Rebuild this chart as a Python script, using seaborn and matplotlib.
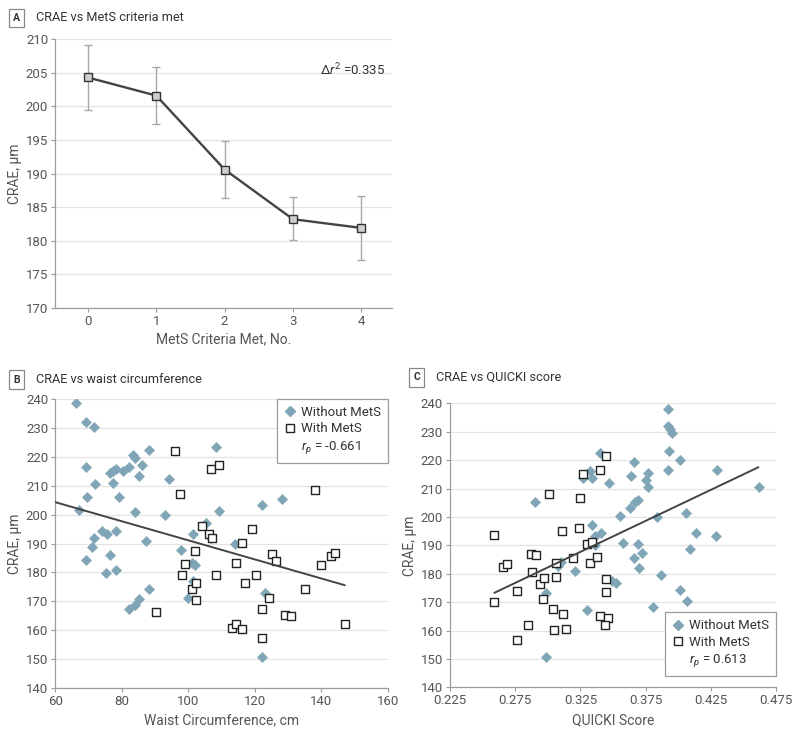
import matplotlib
matplotlib.use("Agg")
import matplotlib.pyplot as plt
from matplotlib.lines import Line2D
import seaborn as sns

# -- Panel A: CRAE by number of MetS criteria
mets_count = [0, 1, 2, 3, 4]
crae_mean = [204.3, 201.6, 190.6, 183.2, 181.9]
crae_low = [199.4, 197.4, 186.4, 180.1, 177.1]
crae_high = [209.2, 205.9, 194.8, 186.5, 186.7]
delta_r2 = "0.335"

# -- Panel B: CRAE vs waist circumference
wo_waist = [66.3, 69.3, 71.8, 69.3, 72.1, 69.5, 67.2, 71.8, 71.2, 69.3, 74.0, 75.5,
            76.5, 78.3, 78.2, 75.3, 76.5, 77.5, 78.3, 77.3, 79.2, 80.3, 82.2, 83.3,
            84.1, 86.0, 85.1, 84.1, 87.2, 88.2, 93.0, 94.2, 97.8, 101.5, 101.2, 102.0,
            105.2, 106.8, 108.2, 109.2, 114.1, 122.2, 128.2, 82.3, 84.0, 85.3, 88.2,
            100.0, 101.5, 123.0, 122.2]
wo_crae_b = [238.6, 232.0, 230.3, 216.4, 210.7, 206.0, 201.5, 192.0, 188.7, 184.3, 194.4, 193.4,
             186.0, 194.2, 180.8, 179.8, 214.4, 215.0, 215.7, 210.9, 206.0, 215.0, 216.4, 220.5,
             219.6, 217.0, 213.2, 200.9, 190.8, 222.4, 199.7, 212.3, 187.8, 193.2, 183.4, 182.6,
             197.0, 191.8, 223.3, 201.1, 189.8, 203.4, 205.4, 167.5, 168.6, 170.7, 174.4,
             171.3, 177.1, 173.0, 150.8]
w_waist = [96.0, 97.5, 106.8, 109.2, 104.0, 106.2, 107.0, 116.2, 119.2, 102.0, 99.0, 114.2,
           125.2, 126.2, 138.0, 140.0, 142.8, 144.0, 98.0, 101.0, 102.2, 102.2, 90.2, 108.2,
           117.0, 120.2, 122.0, 124.3, 122.2, 113.2, 114.2, 116.2, 129.0, 131.0, 135.0, 147.0]
w_crae_b = [222.1, 207.1, 215.7, 217.0, 196.2, 193.3, 191.8, 190.3, 195.0, 187.5, 182.8, 183.4,
            186.3, 184.0, 208.6, 182.6, 185.8, 186.6, 179.1, 174.2, 176.2, 170.4, 166.4, 179.1,
            176.5, 179.2, 167.5, 171.3, 157.2, 160.9, 162.1, 160.5, 165.3, 164.9, 174.4, 162.3]
fit_waist = [60, 147]
fit_crae_b = [204.3, 175.6]
rp_b = "-0.661"

# -- Panel C: CRAE vs QUICKI score
wo_quicki = [0.290, 0.299, 0.299, 0.308, 0.321, 0.330, 0.340, 0.332, 0.334, 0.327, 0.347, 0.366,
             0.364, 0.377, 0.375, 0.377, 0.369, 0.367, 0.363, 0.355, 0.334, 0.336, 0.341, 0.358,
             0.369, 0.372, 0.366, 0.370, 0.352, 0.381, 0.387, 0.392, 0.392, 0.394, 0.3955, 0.393,
             0.401, 0.392, 0.430, 0.462, 0.384, 0.406, 0.414, 0.429, 0.409, 0.401, 0.407,
             0.336, 0.349, 0.310]
wo_crae_c = [205.1, 173.1, 150.8, 182.8, 181.0, 167.2, 222.4, 216.2, 213.8, 213.6, 212.0, 219.2,
             214.4, 215.4, 213.0, 210.6, 206.0, 205.4, 203.0, 200.4, 197.1, 193.3, 194.2, 190.9,
             190.5, 187.4, 185.6, 182.1, 176.6, 168.2, 179.5, 238.0, 232.0, 230.8, 229.6, 223.2,
             220.0, 216.5, 216.5, 210.6, 200.0, 201.3, 194.2, 193.3, 188.6, 174.3, 170.5,
             190.0, 177.4, 184.0]
w_quicki = [0.259, 0.266, 0.269, 0.287, 0.291, 0.301, 0.311, 0.319, 0.325, 0.324, 0.327, 0.330,
            0.334, 0.332, 0.338, 0.340, 0.345, 0.259, 0.276, 0.276, 0.285, 0.288, 0.294, 0.296,
            0.297, 0.304, 0.305, 0.306, 0.306, 0.312, 0.314, 0.340, 0.345, 0.345, 0.346, 0.344]
w_crae_c = [193.8, 182.3, 183.5, 187.1, 186.5, 208.2, 194.9, 185.7, 206.5, 196.0, 215.2, 190.5,
            191.3, 183.9, 186.0, 216.5, 221.5, 170.0, 174.0, 156.8, 162.1, 180.8, 176.5, 171.1,
            178.4, 167.5, 160.1, 178.9, 183.8, 166.0, 160.5, 165.0, 178.2, 173.6, 164.6, 162.1]
fit_quicki = [0.259, 0.4615]
fit_crae_c = [173.3, 217.5]
rp_c = "0.613"

quicki_ticks = [0.225, 0.275, 0.325, 0.375, 0.425, 0.475]

# -- Style
sns.set_theme(style="ticks")
plt.rcParams["font.family"] = ["Roboto", "DejaVu Sans"]
plt.rcParams["mathtext.fontset"] = "custom"
plt.rcParams["mathtext.rm"] = "Roboto"
plt.rcParams["mathtext.it"] = "Roboto:italic"

BLUE = "#7fa5b7"
DARK = "#444444"
AXC = "#9c9c9c"
TXT = "#555555"


def style_axis(ax):
    ax.grid(axis="y", color="#e4e4e4", lw=0.9)
    ax.grid(axis="x", visible=False)
    ax.set_axisbelow(True)
    for s in ["top", "right"]:
        ax.spines[s].set_visible(False)
    for s in ["left", "bottom"]:
        ax.spines[s].set_color(AXC)
        ax.spines[s].set_linewidth(0.9)
    ax.tick_params(colors=AXC, labelcolor=TXT, labelsize=9.5, length=3, width=0.8, pad=2)


def panel_title(x, y, letter, text):
    fig.text(x, y, letter, fontsize=7.5, fontweight="bold", color="#333333", va="center",
             ha="center", bbox=dict(boxstyle="square,pad=0.4", fc="white", ec="#888888", lw=0.9))
    fig.text(x + 0.0235, y, text, fontsize=9.2, color="#333333", va="center", ha="left")


def legend_for(ax, rp_text, **kw):
    handles = [
        Line2D([], [], marker="D", ls="none", color=BLUE, markersize=5.5),
        Line2D([], [], marker="s", ls="none", mfc="white", mec="#222222", mew=1.0, markersize=6),
        Line2D([], [], ls="none"),
    ]
    labels = ["Without MetS", "With MetS", r"$r_p$ = " + rp_text]
    leg = ax.legend(handles, labels, fontsize=9.5, frameon=True, fancybox=False, framealpha=1,
                    edgecolor=AXC, handlelength=0.9, handletextpad=0.35, labelspacing=0.25,
                    borderpad=0.55, **kw)
    leg.get_frame().set_linewidth(0.9)
    for t in leg.get_texts():
        t.set_color("#333333")
    return leg


fig = plt.figure(figsize=(8, 7.4), dpi=100)
axA = fig.add_axes([0.069, 0.584, 0.421, 0.363])
axB = fig.add_axes([0.069, 0.070, 0.416, 0.391])
axC = fig.add_axes([0.5625, 0.071, 0.4075, 0.384])

# -- A
yerr = [[m - lo for m, lo in zip(crae_mean, crae_low)],
        [hi - m for m, hi in zip(crae_mean, crae_high)]]
axA.errorbar(mets_count, crae_mean, yerr=yerr, fmt="none", ecolor="#a8a8a8",
             elinewidth=1.0, capsize=3, capthick=1.0, zorder=2)
sns.lineplot(x=mets_count, y=crae_mean, ax=axA, color=DARK, lw=1.7, marker="s",
             markersize=5.5, markerfacecolor="#cfcfcf", markeredgecolor="#333333",
             markeredgewidth=1.0, zorder=3)
axA.set_xlim(-0.48, 4.45)
axA.set_ylim(170, 210)
axA.set_xticks(mets_count)
axA.set_yticks(range(170, 211, 5))
style_axis(axA)
axA.set_xlabel("MetS Criteria Met, No.", fontsize=10, color=TXT, labelpad=3)
axA.set_ylabel("CRAE, µm", fontsize=10, color=TXT, labelpad=3)
axA.text(0.98, 0.885, r"$\Delta r^2$ =" + delta_r2, transform=axA.transAxes,
         ha="right", va="center", fontsize=9.5, color="#333333")
panel_title(0.021, 0.976, "A", "CRAE vs MetS criteria met")

# -- B
sns.scatterplot(x=wo_waist, y=wo_crae_b, ax=axB, marker="D", s=28, color=BLUE,
                edgecolor=BLUE, linewidth=0.3, zorder=3)
sns.scatterplot(x=w_waist, y=w_crae_b, ax=axB, marker="s", s=30, color="#222222",
                facecolor="white", edgecolor="#222222", linewidth=1.0, zorder=4)
sns.lineplot(x=fit_waist, y=fit_crae_b, ax=axB, color=DARK, lw=1.4, zorder=5)
axB.set_xlim(60, 160)
axB.set_ylim(140, 240)
axB.set_xticks(range(60, 161, 20))
axB.set_yticks(range(140, 241, 10))
style_axis(axB)
axB.set_xlabel("Waist Circumference, cm", fontsize=10, color=TXT, labelpad=4)
axB.set_ylabel("CRAE, µm", fontsize=10, color=TXT, labelpad=3)
legend_for(axB, rp_b, loc="upper right", borderaxespad=0.0)
panel_title(0.021, 0.487, "B", "CRAE vs waist circumference")

# -- C
sns.scatterplot(x=wo_quicki, y=wo_crae_c, ax=axC, marker="D", s=28, color=BLUE,
                edgecolor=BLUE, linewidth=0.3, zorder=3)
sns.scatterplot(x=w_quicki, y=w_crae_c, ax=axC, marker="s", s=30, color="#222222",
                facecolor="white", edgecolor="#222222", linewidth=1.0, zorder=4)
sns.lineplot(x=fit_quicki, y=fit_crae_c, ax=axC, color=DARK, lw=1.4, zorder=5)
axC.set_xlim(0.225, 0.475)
axC.set_ylim(140, 240)
axC.set_xticks(quicki_ticks)
axC.set_xticklabels([f"{t:.3f}" for t in quicki_ticks])
axC.set_yticks(range(140, 241, 10))
style_axis(axC)
axC.set_xlabel("QUICKI Score", fontsize=10, color=TXT, labelpad=4)
axC.set_ylabel("CRAE, µm", fontsize=10, color=TXT, labelpad=3)
legend_for(axC, rp_c, loc="lower right", bbox_to_anchor=(1.0, 0.04), borderaxespad=0.0)
panel_title(0.521, 0.490, "C", "CRAE vs QUICKI score")

fig.savefig("out.png", dpi=100)
